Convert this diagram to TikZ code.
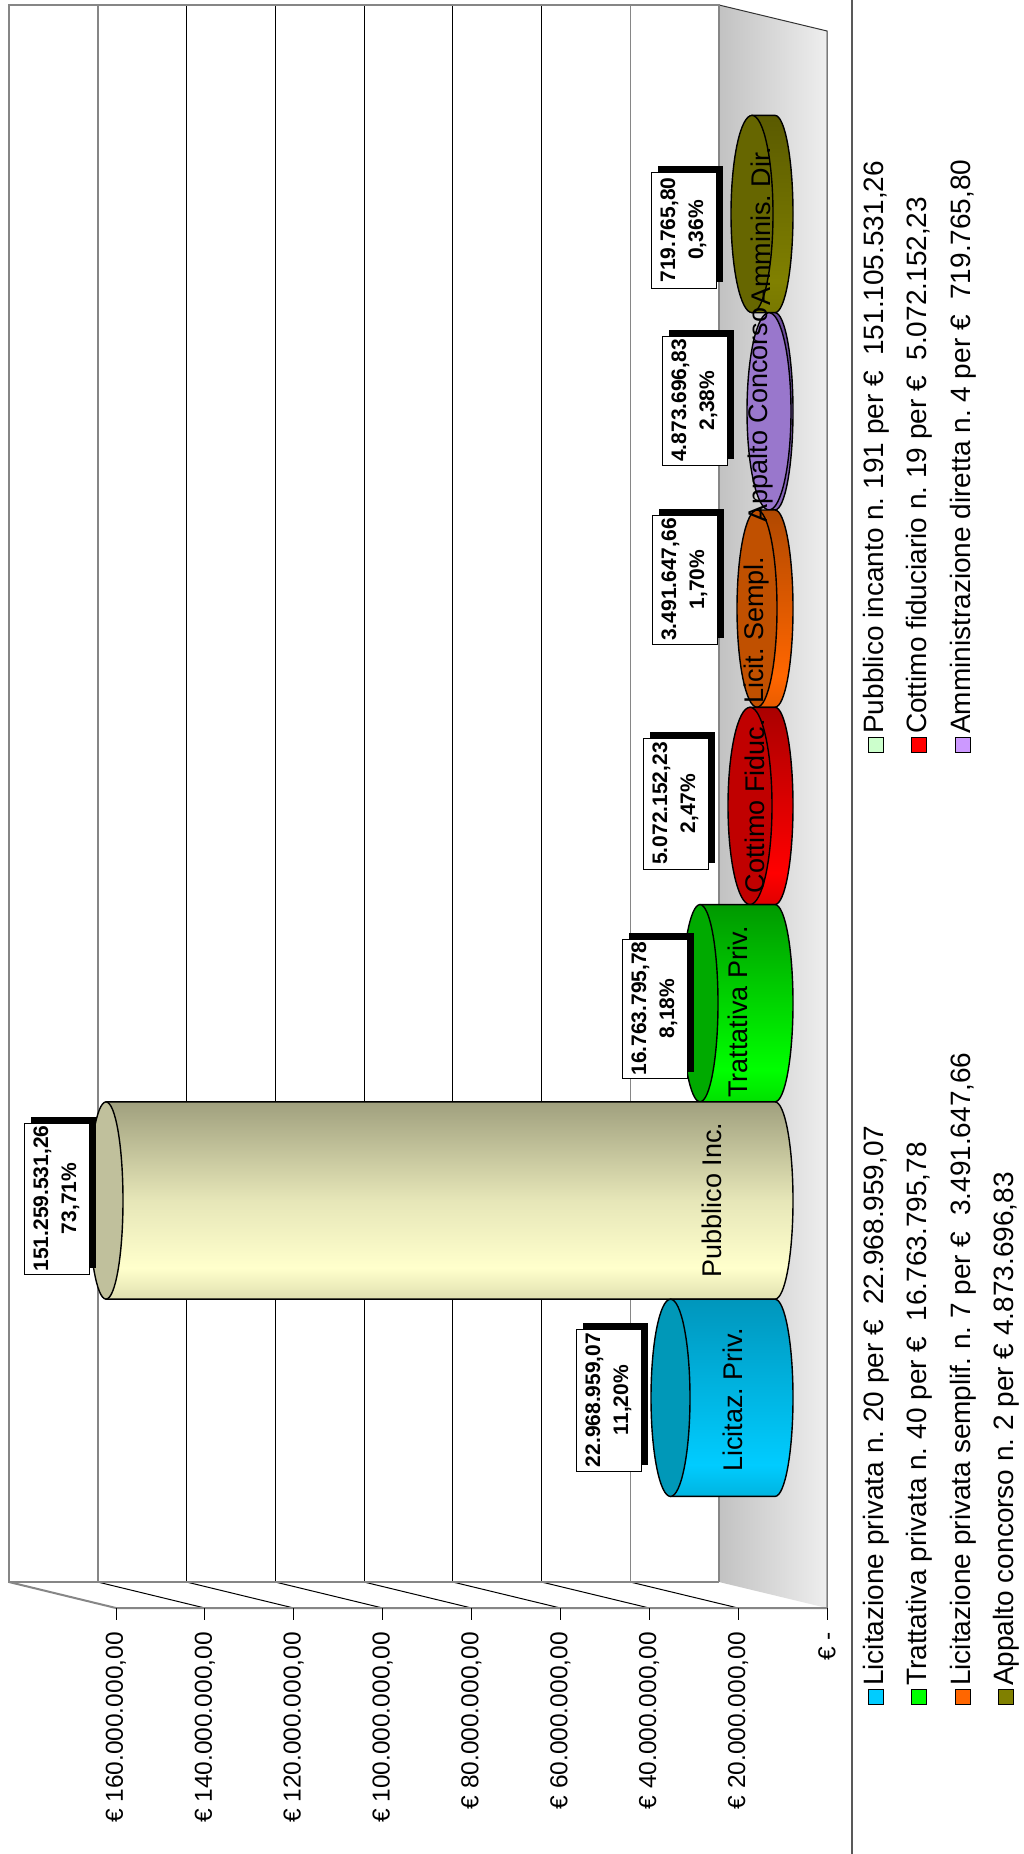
\documentclass[tikz,border=0pt]{standalone}
\usepackage{fontspec}
\setmainfont{Liberation Sans}
\usetikzlibrary{shadows}
\definecolor{wallgray}{HTML}{868686}
\definecolor{floorL}{HTML}{C2C2C2}
\definecolor{floorR}{HTML}{EEEEEE}
% cylinder colours
\definecolor{pubB}{HTML}{E0E0B0}\definecolor{pubL}{HTML}{FFFFCC}\definecolor{pubM}{HTML}{E6E6B8}\definecolor{pubT}{HTML}{A0A07E}\definecolor{pubC}{HTML}{C0C09C}
\definecolor{licB}{HTML}{00B4E0}\definecolor{licL}{HTML}{00CCFF}\definecolor{licT}{HTML}{0096BC}\definecolor{licC}{HTML}{0098B8}
\definecolor{traB}{HTML}{00E000}\definecolor{traL}{HTML}{00FF00}\definecolor{traT}{HTML}{009900}\definecolor{traC}{HTML}{00AA00}
\definecolor{cotB}{HTML}{E00000}\definecolor{cotL}{HTML}{FF0000}\definecolor{cotT}{HTML}{AA0000}\definecolor{cotC}{HTML}{C00000}
\definecolor{semB}{HTML}{E85C00}\definecolor{semL}{HTML}{FF6600}\definecolor{semT}{HTML}{B04800}\definecolor{semC}{HTML}{C05000}
\definecolor{appB}{HTML}{8866BB}\definecolor{appT}{HTML}{6A4A9A}\definecolor{appC}{HTML}{9977CC}
\definecolor{amdB}{HTML}{787800}\definecolor{amdL}{HTML}{808000}\definecolor{amdT}{HTML}{5A5A00}\definecolor{amdC}{HTML}{666600}
% legend colours
\definecolor{lgLic}{HTML}{00CCFF}\definecolor{lgTra}{HTML}{00FF00}\definecolor{lgSem}{HTML}{FF6600}\definecolor{lgApp}{HTML}{808000}
\definecolor{lgPub}{HTML}{CCFFCC}\definecolor{lgCot}{HTML}{FF0000}\definecolor{lgAmd}{HTML}{CC99FF}
\pgfdeclareverticalshading{shPub}{100bp}{color(0bp)=(pubB); color(25bp)=(pubB); color(33bp)=(pubL); color(50bp)=(pubM); color(75bp)=(pubT); color(100bp)=(pubT)}
\pgfdeclareverticalshading{shLic}{100bp}{color(0bp)=(licB); color(25bp)=(licB); color(33bp)=(licL); color(75bp)=(licT); color(100bp)=(licT)}
\pgfdeclareverticalshading{shTra}{100bp}{color(0bp)=(traB); color(25bp)=(traB); color(33bp)=(traL); color(75bp)=(traT); color(100bp)=(traT)}
\pgfdeclareverticalshading{shCot}{100bp}{color(0bp)=(cotB); color(25bp)=(cotB); color(33bp)=(cotL); color(75bp)=(cotT); color(100bp)=(cotT)}
\pgfdeclareverticalshading{shSem}{100bp}{color(0bp)=(semB); color(25bp)=(semB); color(33bp)=(semL); color(75bp)=(semT); color(100bp)=(semT)}
\pgfdeclareverticalshading{shApp}{100bp}{color(0bp)=(appB); color(25bp)=(appB); color(75bp)=(appT); color(100bp)=(appT)}
\pgfdeclareverticalshading{shAmd}{100bp}{color(0bp)=(amdB); color(25bp)=(amdB); color(33bp)=(amdL); color(75bp)=(amdT); color(100bp)=(amdT)}
% cylinder: #1 cap centre x, #2 cap x radius, #3 centre y, #4 shading, #5 cap colour
\newcommand\mycyl[5]{%
  \shadedraw[shading=#4, draw=black, line width=1.4] (#1,#3-98.6) -- (775,#3-98.6)
     arc[start angle=-90, end angle=90, x radius=18, y radius=98.6] -- (#1,#3+98.6) -- cycle;
  \filldraw[fill=#5, draw=black, line width=1.4] (#1,#3) ellipse [x radius=#2, y radius=98.6];
}
\begin{document}
\frenchspacing
\begin{tikzpicture}[x=1pt,y=-1pt,
  wallline/.style={draw=wallgray, line width=2},
  axlabel/.style={rotate=90, anchor=east, inner sep=0, font=\fontsize{24.5}{28}\selectfont},
  cyllabel/.style={rotate=90, inner sep=0, font=\fontsize{27}{30}\selectfont},
  dbox/.style={draw=black, line width=0.8, fill=white, minimum width=65, inner sep=0,
     general shadow={fill=black, shadow xshift=7pt, shadow yshift=6pt}},
  dtext/.style={rotate=90, align=center, inner sep=0, font=\bfseries\fontsize{21}{28}\selectfont},
  legsq/.style={draw=black, line width=1, minimum size=15, inner sep=0},
  legtext/.style={rotate=90, anchor=west, inner sep=0, font=\fontsize{28}{30}\selectfont}]
\useasboundingbox[fill=white] (0,0) rectangle (1024,1854);
% floor
\shade[left color=floorL, right color=floorR] (719,5) -- (827,31) -- (827,1608) -- (719,1582) -- cycle;
\draw[black!80, line width=1] (719,5) -- (827,31) -- (827,1608);
% back wall gridlines
\foreach \k in {2,...,6} {
  \draw[black, line width=1] (9+\k*88.75,5) -- (9+\k*88.75,1582);
}
\foreach \k in {1,7} {
  \draw[wallgray, line width=1.5] (9+\k*88.75,5) -- (9+\k*88.75,1582);
}
% side wall diagonals
\foreach \k in {1,...,7} {
  \draw[black, line width=1] (9+\k*88.75,1582) -- (116+\k*88.875,1608);
}
% wall borders
\draw[wallline] (719,1582) -- (9,1582) -- (9,5) -- (719,5) -- (719,1582);
\draw[wallline] (9,1582) -- (116,1608) -- (827,1608);
% ticks
\foreach \k in {0,...,8} {
  \draw[black, line width=1] (116+\k*88.875,1608) -- (116+\k*88.875,1620);
}
% axis labels
\node[axlabel] (ax0) at (116,1632) {€ 160.000.000,00};
\node[axlabel] (ax1) at (204.875,1632) {€ 140.000.000,00};
\node[axlabel] (ax2) at (293.75,1632) {€ 120.000.000,00};
\node[axlabel] (ax3) at (382.625,1632) {€ 100.000.000,00};
\node[axlabel] (ax4) at (471.5,1632) {€ 80.000.000,00};
\node[axlabel] (ax5) at (560.375,1632) {€ 60.000.000,00};
\node[axlabel] (ax6) at (649.25,1632) {€ 40.000.000,00};
\node[axlabel] (ax7) at (738.125,1632) {€ 20.000.000,00};
\node[axlabel] (ax8) at (827,1632) {€ -};
% cylinders
\mycyl{752}{21}{214}{shAmd}{amdC}
\mycyl{769}{22}{411.3}{shApp}{appC}
\mycyl{757}{20}{608.6}{shSem}{semC}
\mycyl{750}{22}{805.9}{shCot}{cotC}
\mycyl{700}{18}{1003.2}{shTra}{traC}
\mycyl{106}{17}{1200.5}{shPub}{pubC}
\mycyl{670.5}{19.5}{1397.8}{shLic}{licC}
% cylinder labels
\node[cyllabel] (c1) at (733,1400) {Licitaz. Priv.};
\node[cyllabel] (c2) at (712,1200) {Pubblico Inc.};
\node[cyllabel] (c3) at (738,1012) {Trattativa Priv.};
\node[cyllabel] (c4) at (755,806) {Cottimo Fiduc.};
\node[cyllabel] (c5) at (757,630) {Licit. Sempl.};
\node[cyllabel] (c6) at (761,415) {Appalto Concorso};
\node[cyllabel] (c7) at (761,226) {Amminis. Dir.};
% data labels
\node[dbox, minimum height=151] (b1) at (56.5,1198.5) {};
\node[dtext] (d1) at (b1.center) {151.259.531,26\\73,71\%};
\node[dbox, minimum height=142] (b2) at (608.5,1400) {};
\node[dtext] (d2) at (b2.center) {22.968.959,07\\11,20\%};
\node[dbox, minimum height=139] (b3) at (654.5,1008.5) {};
\node[dtext] (d3) at (b3.center) {16.763.795,78\\8,18\%};
\node[dbox, minimum height=131] (b4) at (675.5,803.5) {};
\node[dtext] (d4) at (b4.center) {5.072.152,23\\2,47\%};
\node[dbox, minimum height=129] (b5) at (684.5,579.5) {};
\node[dtext] (d5) at (b5.center) {3.491.647,66\\1,70\%};
\node[dbox, minimum height=129] (b6) at (694.5,400.5) {};
\node[dtext] (d6) at (b6.center) {4.873.696,83\\2,38\%};
\node[dbox, minimum height=116] (b7) at (683.5,230) {};
\node[dtext] (d7) at (b7.center) {719.765,80\\0,36\%};
% chart border
\draw[black!65, line width=1.5] (852,0) -- (852,1854);
% legend
\node[legsq, fill=lgLic] (q1) at (876,1697) {};
\node[legtext] (l1) at ([yshift=3pt]q1.north) {Licitazione privata n. 20 per €\ \ 22.968.959,07};
\node[legsq, fill=lgTra] (q2) at (919,1697) {};
\node[legtext] (l2) at ([yshift=3pt]q2.north) {Trattativa privata n. 40 per €\ \ 16.763.795,78};
\node[legsq, fill=lgSem] (q3) at (963,1697) {};
\node[legtext] (l3) at ([yshift=3pt]q3.north) {Licitazione privata semplif. n. 7 per €\ \ 3.491.647,66};
\node[legsq, fill=lgApp] (q4) at (1006,1697) {};
\node[legtext] (l4) at ([yshift=3pt]q4.north) {Appalto concorso n. 2 per € 4.873.696,83};
\node[legsq, fill=lgPub] (q5) at (876,745) {};
\node[legtext] (l5) at ([yshift=3pt]q5.north) {Pubblico incanto n. 191 per €\ \ 151.105.531,26};
\node[legsq, fill=lgCot] (q6) at (919,745) {};
\node[legtext] (l6) at ([yshift=3pt]q6.north) {Cottimo fiduciario n. 19 per €\ \ 5.072.152,23};
\node[legsq, fill=lgAmd] (q7) at (963,745) {};
\node[legtext] (l7) at ([yshift=3pt]q7.north) {Amministrazione diretta n. 4 per €\ \ 719.765,80};
\end{tikzpicture}
\end{document}
